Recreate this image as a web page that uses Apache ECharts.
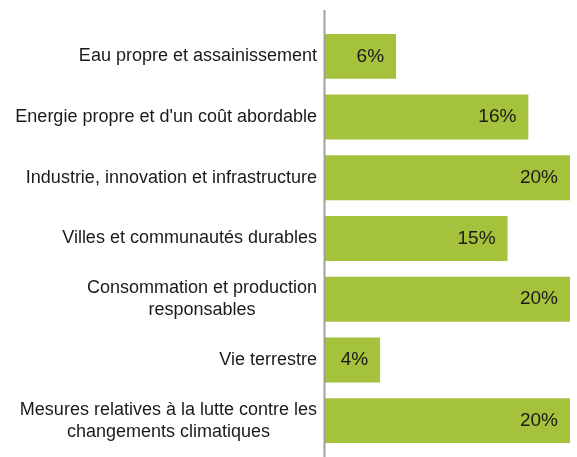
<!DOCTYPE html>
<html>
<head>
<meta charset="utf-8">
<script src="https://cdn.jsdelivr.net/npm/echarts@6/dist/echarts.min.js"></script>
<style>
  html, body { margin: 0; padding: 0; background: #fff; }
  #chart { width: 577px; height: 457px; }
</style>
</head>
<body>
<div id="chart"></div>
<script>
// categories (top to bottom), bar lengths in % and the printed labels
var categories = [
  'Eau propre et assainissement',
  "Energie propre et d'un coût abordable",
  'Industrie, innovation et infrastructure',
  'Villes et communautés durables',
  'Consommation et production\nresponsables',
  'Vie terrestre',
  'Mesures relatives à la lutte contre les\nchangements climatiques'
]
var shares = [5.8, 16.6, 20, 14.9, 20, 4.5, 20]
var shareLabels = ['6%', '16%', '20%', '15%', '20%', '4%', '20%']

var chart = echarts.init(document.getElementById('chart'))

chart.setOption({
  animation: false,
  textStyle: { fontFamily: 'Liberation Sans, Arial, sans-serif' },
  grid: {
    left: 325,
    right: 7,
    top: 26,
    bottom: 6
  },
  xAxis: {
    type: 'value',
    min: 0,
    max: 20,
    show: false
  },
  yAxis: {
    type: 'category',
    inverse: true,
    data: categories,
    axisLine: { show: false },
    axisTick: { show: false },
    axisLabel: {
      margin: 8,
      fontSize: 18,
      color: '#1a1a1a',
      lineHeight: 22,
      formatter: function (val) {
        return val.split('\n').map(function (s) { return '{c|' + s + '}' }).join('\n')
      },
      rich: {
        c: { align: 'center', fontSize: 18, color: '#1a1a1a', lineHeight: 22 }
      }
    }
  },
  graphic: [
    {
      type: 'line',
      shape: { x1: 324.5, y1: 10, x2: 324.5, y2: 457 },
      style: { stroke: '#a0a0a0', lineWidth: 2 },
      z: 100
    }
  ],
  series: [
    {
      type: 'bar',
      data: shares,
      barCategoryGap: '26%',
      itemStyle: { color: '#a4c23b' },
      label: {
        show: true,
        position: 'insideRight',
        distance: 12,
        fontSize: 19,
        color: '#1a1a1a',
        formatter: function (p) { return shareLabels[p.dataIndex] }
      }
    }
  ]
})
</script>
</body>
</html>
